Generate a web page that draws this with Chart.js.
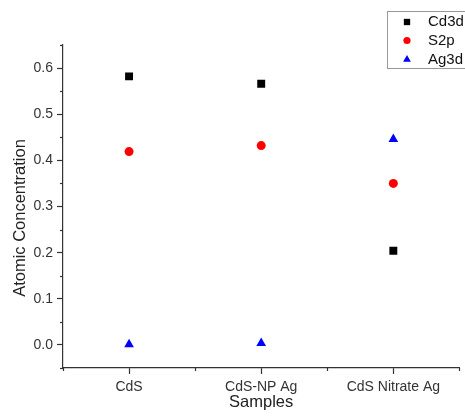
<!DOCTYPE html>
<html lang="en">
<head>
    <meta charset="UTF-8">
    <title>Atomic Concentration</title>
    <script src="https://cdn.jsdelivr.net/npm/chart.js"></script>
    <style>
        body { margin: 0; background: #fff; }
        canvas { display: block; }
    </style>
</head>
<body>
    <canvas id="grafico" width="465" height="418"></canvas>

<script>
    // dados
    var amostras = ['CdS', 'CdS-NP Ag', 'CdS Nitrate Ag']
    var cd3d = [0.582, 0.566, 0.204]
    var s2p = [0.419, 0.432, 0.350]
    var ag3d = [0.001, 0.004, 0.446]

    var fonte = 'Arial, "Liberation Sans", sans-serif'

    function pontos(lista) {
        return lista.map(function (v, i) { return { x: i, y: v } })
    }

    // minor ticks menores + titulo do eixo y + legenda
    const extras = {
        id: 'extras',
        beforeDraw(chart) {
            const ctx = chart.ctx
            ctx.save()
            ctx.fillStyle = '#fff'
            ctx.fillRect(0, 0, chart.width, chart.height)
            ctx.restore()
        },
        afterDraw(chart) {
            const ctx = chart.ctx
            const x = chart.scales.x
            const y = chart.scales.y
            ctx.save()
            ctx.strokeStyle = '#333'
            ctx.lineWidth = 1.2
            y.ticks.forEach(function (t) {
                if (Math.round(t.value * 20) % 2 !== 0) {
                    const py = Math.round(y.getPixelForValue(t.value)) + 0.5
                    ctx.beginPath()
                    ctx.moveTo(y.right - 3, py)
                    ctx.lineTo(y.right, py)
                    ctx.stroke()
                }
            })
            x.ticks.forEach(function (t) {
                if (Math.round(t.value * 2) % 2 !== 0) {
                    const px = Math.round(x.getPixelForValue(t.value)) + 0.5
                    ctx.beginPath()
                    ctx.moveTo(px, x.top)
                    ctx.lineTo(px, x.top + 3)
                    ctx.stroke()
                }
            })

            // titulo eixo y
            ctx.fillStyle = '#222'
            ctx.font = '16.5px ' + fonte
            ctx.textAlign = 'center'
            ctx.textBaseline = 'middle'
            ctx.translate(20, 218)
            ctx.rotate(-Math.PI / 2)
            ctx.fillText('Atomic Concentration', 0, 0)
            ctx.restore()

            // legenda
            ctx.save()
            ctx.strokeStyle = '#999'
            ctx.lineWidth = 1
            ctx.strokeRect(387.5, 11.5, 90, 57)
            const linhas = [22, 40.5, 59.5]
            chart.data.datasets.forEach(function (ds, i) {
                ctx.fillStyle = ds.backgroundColor
                Chart.helpers.drawPoint(ctx, {
                    pointStyle: ds.pointStyle,
                    radius: ds.pointRadius * 0.8,
                    borderWidth: 0
                }, 407, linhas[i])
                ctx.fillStyle = '#111'
                ctx.font = '15px ' + fonte
                ctx.textAlign = 'left'
                ctx.textBaseline = 'middle'
                ctx.fillText(ds.label, 428, linhas[i])
            })
            ctx.restore()
        }
    }

    const config = {
        type: 'scatter',
        data: {
            datasets: [
                { label: 'Cd3d', data: pontos(cd3d), pointStyle: 'rect', pointRadius: 5.6, backgroundColor: '#000', borderWidth: 0 },
                { label: 'S2p', data: pontos(s2p), pointStyle: 'circle', pointRadius: 4.5, backgroundColor: '#ff0000', borderWidth: 0 },
                { label: 'Ag3d', data: pontos(ag3d), pointStyle: 'triangle', pointRadius: 5.6, backgroundColor: '#0000ff', borderWidth: 0 }
            ]
        },
        options: {
            responsive: false,
            animation: false,
            layout: { padding: { left: 0, top: 45, right: 3, bottom: 0 } },
            plugins: {
                legend: { display: false },
                tooltip: { enabled: false }
            },
            elements: { point: { hoverRadius: 0 } },
            scales: {
                x: {
                    type: 'linear',
                    min: -0.5,
                    max: 2.5,
                    afterFit: function (s) { s.height = 50 },
                    border: { display: true, color: '#333', width: 1.2 },
                    grid: {
                        drawOnChartArea: false,
                        drawTicks: true,
                        tickLength: 6,
                        tickWidth: 1.2,
                        tickColor: function (c) {
                            return Math.round(c.tick.value * 2) % 2 === 0 ? '#333' : 'rgba(0,0,0,0)'
                        }
                    },
                    ticks: {
                        stepSize: 0.5,
                        autoSkip: false,
                        maxRotation: 0,
                        padding: 5,
                        color: '#333',
                        font: { family: fonte, size: 14 },
                        callback: function (v) {
                            if (Math.round(v * 2) % 2 !== 0) return ''
                            return amostras[Math.round(v)] || ''
                        }
                    },
                    title: {
                        display: true,
                        text: 'Samples',
                        color: '#222',
                        font: { family: fonte, size: 16.5 },
                        padding: { top: 0, bottom: 6 }
                    }
                },
                y: {
                    min: -0.05,
                    max: 0.65,
                    afterFit: function (s) { s.width = 63 },
                    border: { display: true, color: '#333', width: 1.2 },
                    grid: {
                        drawOnChartArea: false,
                        drawTicks: true,
                        tickLength: 6,
                        tickWidth: 1.2,
                        tickColor: function (c) {
                            return Math.round(c.tick.value * 20) % 2 === 0 ? '#333' : 'rgba(0,0,0,0)'
                        }
                    },
                    ticks: {
                        stepSize: 0.05,
                        autoSkip: false,
                        padding: 4,
                        color: '#333',
                        font: { family: fonte, size: 14 },
                        callback: function (v) {
                            if (Math.round(v * 20) % 2 !== 0) return ''
                            return v.toFixed(1)
                        }
                    }
                }
            }
        },
        plugins: [extras]
    }

    const grafico = new Chart(document.getElementById('grafico'), config)
</script>
</body>
</html>
